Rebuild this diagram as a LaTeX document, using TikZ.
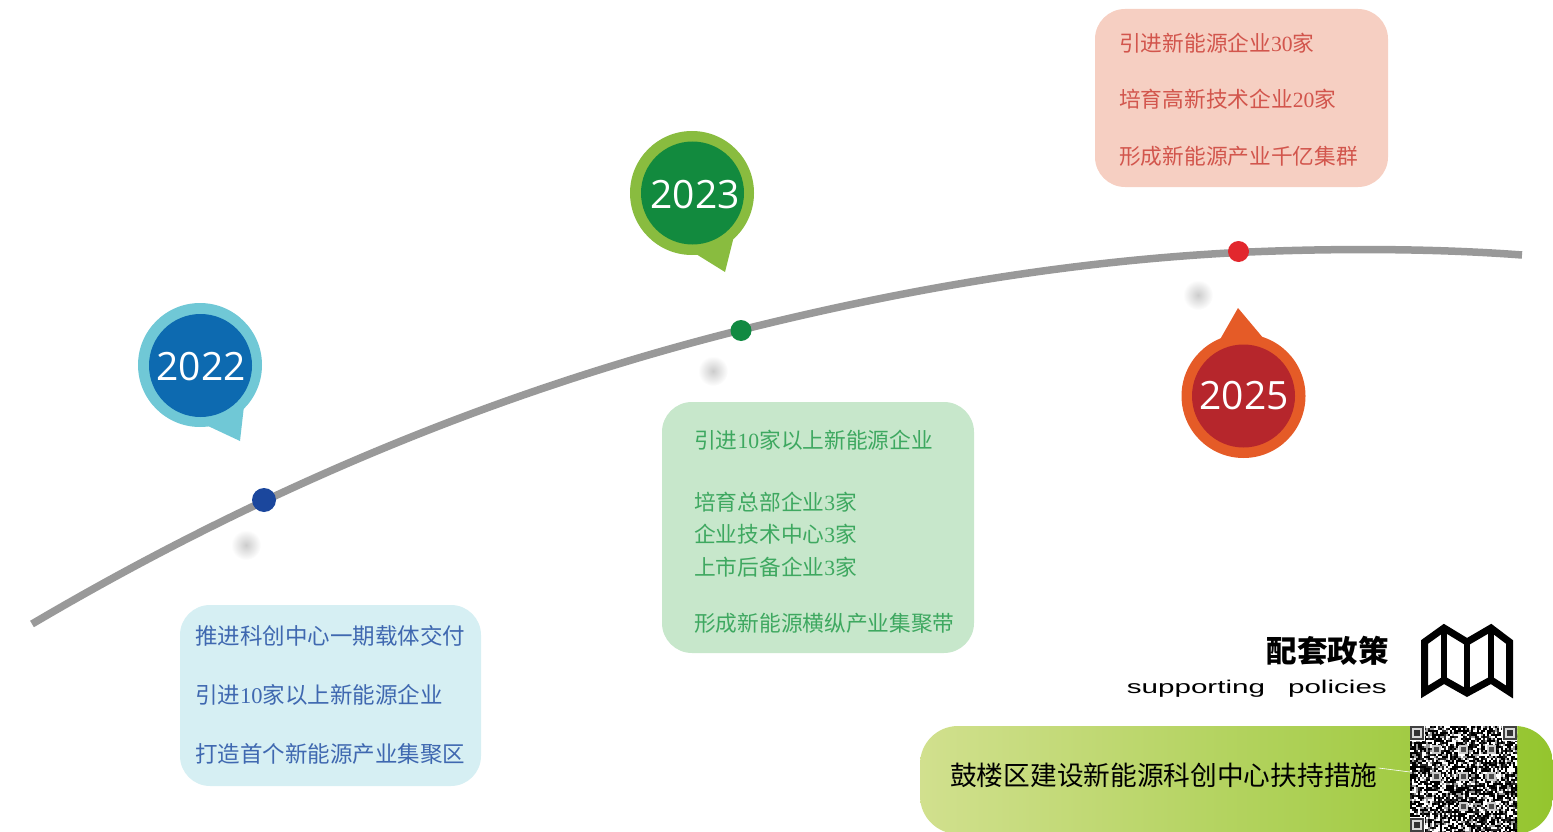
\documentclass[tikz,border=0pt]{standalone}
\usepackage{fontspec}
\setmainfont{Noto Sans CJK SC}
\newfontfamily\latserif{Liberation Serif}
\newfontfamily\yearfont{Open Sans}
\newfontfamily\widefont[FakeStretch=1.6]{Liberation Sans}
\newcommand{\nm}[1]{{\latserif #1}}
\definecolor{curvegray}{HTML}{999999}
\definecolor{bluetext}{HTML}{3F68B0}
\definecolor{bluebox}{HTML}{D6EFF3}
\definecolor{greentext}{HTML}{3EA860}
\definecolor{greenbox}{HTML}{C7E7CB}
\definecolor{redtext}{HTML}{D2554C}
\definecolor{redbox}{HTML}{F6CFC2}
\tikzset{
  x=1pt,y=-1pt,
  boxshape/.style={rectangle,rounded corners=30pt,inner sep=0pt,draw=none},
  linetext/.style={anchor=west,inner sep=0pt,font=\fontsize{#1}{#1}\selectfont},
  yeartext/.style={text=white,inner sep=0pt,font=\fontsize{39}{39}\yearfont},
  dotnode/.style={circle,inner sep=0pt,minimum size=#1},
  pincore/.style={circle,inner sep=0pt,minimum size=103pt},
}
\begin{document}
\begin{tikzpicture}
\useasboundingbox (0,0) rectangle (1553,832);
% timeline
\draw[curvegray,line width=7.5pt] (32,624)
  .. controls (268,485) and (505,389) .. (741,330)
  .. controls (907,288.5) and (1072,261) .. (1238,252.5)
  .. controls (1333,248) and (1436,248.5) .. (1522,255);
% soft shadows
\foreach \p in {(246,545),(713,371),(1198,295)}
  \shade[inner color=black!20,outer color=white] \p circle (15);
% dots
\node[dotnode=24pt,fill={rgb,255:red,27;green,71;blue,157}] (d1) at (264,500) {};
\node[dotnode=21pt,fill={rgb,255:red,17;green,138;blue,66}] (d2) at (741,330.5) {};
\node[dotnode=21pt,fill={rgb,255:red,226;green,39;blue,45}] (d3) at (1238.5,251.5) {};
% pins
\fill[fill={rgb,255:red,112;green,200;blue,214}] (200,365) circle (62);
\fill[fill={rgb,255:red,112;green,200;blue,214}] (208,426) -- (240,441) -- (244,406) -- cycle;
\node[pincore,fill={rgb,255:red,13;green,106;blue,176}] (c1) at (200.5,365.5) {};
\node[yeartext] (y1) at (201,367) {2022};
\fill[fill={rgb,255:red,137;green,188;blue,63}] (692,193) circle (62);
\fill[fill={rgb,255:red,137;green,188;blue,63}] (696,254) -- (725,272) -- (734,236) -- cycle;
\node[pincore,fill={rgb,255:red,18;green,138;blue,62}] (c2) at (692.5,193) {};
\node[yeartext] (y2) at (695,194.5) {2023};
\fill[fill={rgb,255:red,229;green,91;blue,39}] (1243.5,396) circle (62);
\fill[fill={rgb,255:red,229;green,91;blue,39}] (1218,343) -- (1238,308) -- (1264,339) -- cycle;
\node[pincore,fill={rgb,255:red,182;green,38;blue,44}] (c3) at (1243.5,396) {};
\node[yeartext] (y3) at (1244,396) {2025};
% boxes
\node[boxshape,fill=bluebox,minimum width=301pt,minimum height=181pt] (bluepanel) at (330.5,695.5) {};
\node[boxshape,fill=greenbox,minimum width=312pt,minimum height=251pt] (greenpanel) at (818,527.5) {};
\node[boxshape,fill=redbox,minimum width=293pt,minimum height=178pt] (redpanel) at (1241.5,98) {};
% blue text
\begin{scope}[text=bluetext]
\node[linetext=22.5] (b1) at (195,636) {推进科创中心一期载体交付};
\node[linetext=22.5] (b2) at (195,695) {引进\nm{10}家以上新能源企业};
\node[linetext=22.5] (b3) at (195,754) {打造首个新能源产业集聚区};
\end{scope}
% green text
\begin{scope}[text=greentext]
\node[linetext=21.7] (g1) at (694,440) {引进\nm{10}家以上新能源企业};
\node[linetext=21.7] (g2) at (694,502) {培育总部企业\nm{3}家};
\node[linetext=21.7] (g3) at (694,534) {企业技术中心\nm{3}家};
\node[linetext=21.7] (g4) at (694,567) {上市后备企业\nm{3}家};
\node[linetext=21.7] (g5) at (694,623) {形成新能源横纵产业集聚带};
\end{scope}
% red text
\begin{scope}[text=redtext]
\node[linetext=21.7] (r1) at (1119,43) {引进新能源企业\nm{30}家};
\node[linetext=21.7] (r2) at (1119,99) {培育高新技术企业\nm{20}家};
\node[linetext=21.7] (r3) at (1119,156) {形成新能源产业千亿集群};
\end{scope}
% heading
\node[anchor=east,inner sep=0pt,font=\fontsize{30.5}{30.5}\selectfont\bfseries] (h1) at (1389,651) {配套政策};
\node[anchor=east,inner sep=0pt,font=\fontsize{18.5}{18.5}\widefont] (h2) at (1387,689) {supporting\hspace{23pt}policies};
% map icon
\draw[line width=7pt,line join=miter,miter limit=3]
  (1424.5,642) -- (1444,628) -- (1467,642) -- (1491,628) -- (1509.5,642) -- (1509.5,692)
  -- (1491,680) -- (1467,693) -- (1444,680) -- (1424.5,692) -- cycle;
\draw[line width=6pt] (1444,628) -- (1444,680) (1467,642) -- (1467,693) (1491,628) -- (1491,680);
% policy bar
\begin{scope}
\clip (0,0) rectangle (1553,832);
\node[rectangle,rounded corners=38pt,inner sep=0pt,minimum width=633pt,minimum height=108pt,
  left color={rgb,255:red,209;green,224;blue,142},right color={rgb,255:red,148;green,197;blue,46}] (bar) at (1236.5,780) {};
\end{scope}
\node[linetext=26.7,text=black] (bartext) at (950,775) {鼓楼区建设新能源科创中心扶持措施};
% QR code
\node[rectangle,fill=white,inner sep=0pt,minimum width=107pt,minimum height=107pt,anchor=north west] (qr) at (1410,726) {};
\draw[white,line width=0.6pt] (bartext.east) ++(1,-7) -- (qr.west |- 0,772);
\begin{scope}
\clip (1410,726) rectangle (1517,832);
\pgfmathsetseed{4711}
\foreach \i in {0,...,52}{
  \foreach \j in {0,...,52}{
    \pgfmathrandominteger{\v}{0}{6}
    \ifnum\v=0\def\c{0}\fi
    \ifnum\v=1\def\c{0}\fi
    \ifnum\v=2\def\c{40}\fi
    \ifnum\v=3\def\c{100}\fi
    \ifnum\v=4\def\c{100}\fi
    \ifnum\v=5\def\c{85}\fi
    \ifnum\v=6\def\c{100}\fi
    \fill[black!\c] ({1410+2.02*\i},{726+2.02*\j}) rectangle ++(3.2,3.2);
  }
}
\foreach \x/\y in {1410/726,1503/726,1410/818}{
  \fill[white] (\x-1,\y-1) rectangle ++(16,16);
  \fill[black!75] (\x,\y) rectangle ++(14,14);
  \fill[white!85!black] (\x+2,\y+2) rectangle ++(10,10);
  \fill[black!80] (\x+4,\y+4) rectangle ++(6,6);
}
\foreach \x/\y in {1463/776,1463/749,1463/806,1436/776,1491/776,1491/806,1436/749,1491/749}{
  \fill[white!80!black] (\x-4,\y-4) rectangle ++(9,9);
  \fill[black!70] (\x-2,\y-2) rectangle ++(5,5);
}
\end{scope}
\end{tikzpicture}
\end{document}
